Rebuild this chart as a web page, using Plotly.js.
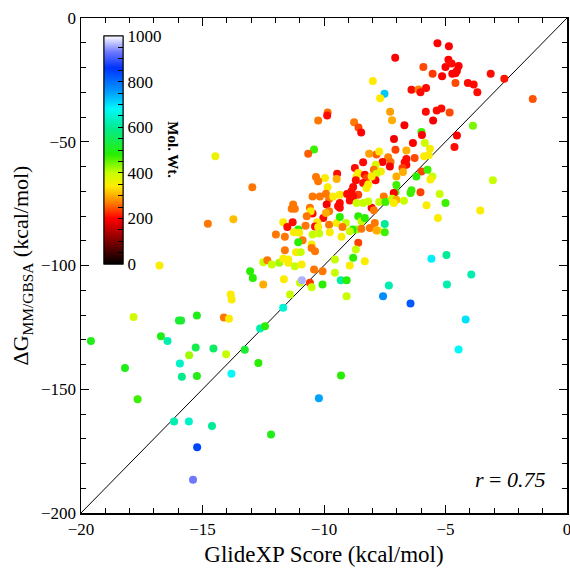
<!DOCTYPE html>
<html>
<head>
<meta charset="utf-8">
<script src="https://cdn.plot.ly/plotly-3.0.1.min.js"></script>
<style>html,body{margin:0;padding:0;background:#fff;}#chart{width:570px;height:571px;}</style>
</head>
<body>
<div id="chart"></div>
<script>
// GlideXP score (kcal/mol)
const glideXP = [
-5.33,-4.86,-7.07,-5.91,-4.88,-4.75,-4.46,-5.00,-4.53,-4.59,-4.72,-5.53,-5.14,-3.14,-2.58,-4.59,-4.08,-3.84,-3.69,-7.99,-7.51,-7.69,-6.40,-6.11,-6.03,-5.80,-5.81,-5.36,-5.17,-4.83,-5.51,-7.28,-7.20,-6.69,-5.99,-5.97,-3.87,-4.53,-7.12,-6.34,-5.85,-5.64,-4.63,-7.06,-6.61,-7.84,-7.73,-7.36,-6.61,-6.27,-5.88,-5.69,-1.41,
-9.85,-9.87,-10.24,-8.76,-8.58,-8.47,-10.41,-10.65,-8.14,
-7.59,-7.26,-7.29,-6.68,-6.61,-6.77,-6.75,-7.87,-7.95,-7.66,-7.84,-5.99,-5.74,-6.20,-5.54,-5.62,-7.02,-7.88,-7.02,-7.06,-7.13,-6.40,-6.44,-6.03,-5.24,-7.54,-7.73,-7.47,-7.20,-7.02,-7.13,-6.71,-5.00,-5.78,-3.05,-3.57,-5.31,-8.04,-7.95,-7.91,-7.50,-7.77,-7.50,-8.11,-5.58,-4.96,-3.94,-4.94,-7.33,
-10.33,-9.96,-10.24,-9.46,-9.48,-12.95,-9.85,-8.73,-8.39,-8.59,-8.66,-8.32,-8.25,-8.04,-8.69,-8.39,-8.25,-8.18,
-10.47,-10.17,-9.92,-9.79,-9.62,-9.35,-9.05,-8.87,-8.80,-8.59,-8.80,-8.94,-8.66,-8.39,-8.18,-9.35,-9.42,-9.35,-9.89,-10.03,-9.79,-9.92,-10.47,-10.58,-11.27,-11.20,-11.33,-10.55,-10.71,-10.28,-10.37,-10.24,-9.79,-9.76,-9.48,-9.35,-9.10,-9.24,-9.28,-8.59,-8.46,-8.32,-8.66,-8.82,-8.94,-8.46,-7.84,
-11.68,-11.29,-11.51,-11.06,-11.02,-11.24,-11.98,-11.61,-10.76,-10.47,-10.20,-10.88,-11.06,-10.51,-10.51,-10.37,-11.15,-10.96,-11.61,-8.59,-8.69,-8.80,-8.32,-8.94,-9.55,-10.06,-10.41,-10.58,-10.99,-10.91,-10.06,-9.55,-9.31,-9.07,
-13.04,-12.93,-12.50,-12.50,-12.33,-12.15,-11.84,-11.68,-11.47,-11.47,-11.20,-10.92,-11.65,
-11.40,-11.68,-10.51,-9.07,-7.57,-6.44,
-16.77,-17.84,-19.59,-18.19,-17.67,-16.71,-16.44,-15.97,-15.88,-15.23,-15.93,-15.85,-15.28,-15.55,-15.23,-14.55,-14.03,-13.81,-13.26,-12.70,-14.12,-13.91,-13.84,-13.80,-13.73,-14.78,-14.47,-12.63,-12.43,-16.17,-15.56,-14.61,-12.18,-15.22,-15.39,
-4.17,-4.46,-10.21,-9.30
];
// ΔG MM/GBSA (kcal/mol)
const dgMMGBSA = [
-10.2,-11.4,-16.1,-19.8,-16.9,-18.4,-19.4,-19.8,-21.3,-22.3,-22.5,-22.5,-23.5,-22.5,-24.5,-26.3,-26.3,-26.9,-30.0,-25.5,-30.6,-32.4,-29.0,-28.9,-30.0,-28.3,-37.9,-37.4,-36.6,-38.2,-41.4,-37.9,-41.3,-43.3,-46.1,-47.3,-43.5,-47.5,-48.9,-50.5,-50.5,-52.8,-52.1,-53.2,-53.5,-55.2,-53.9,-56.3,-57.0,-56.6,-55.9,-55.5,-32.7,
-38.2,-39.4,-41.4,-42.1,-44.2,-46.3,-53.1,-54.8,-54.8,
-58.2,-58.2,-60.0,-58.3,-59.3,-60.6,-62.2,-59.3,-61.3,-62.0,-62.9,-62.0,-61.3,-64.0,-64.0,-65.3,-64.0,-65.6,-67.5,-70.4,-70.7,-69.6,-70.7,-70.4,-71.1,-72.1,-74.3,-74.3,-73.0,-73.4,-74.7,-73.8,-74.7,-75.7,-65.6,-77.8,-80.8,-76.7,-77.7,-82.8,-83.2,-85.9,-86.6,-84.8,-97.3,-95.8,-103.6,-107.7,-108.1,
-64.2,-64.6,-66.0,-62.9,-65.0,-68.4,-68.4,-60.6,-58.3,-62.6,-64.0,-63.3,-64.6,-64.0,-65.6,-66.7,-68.7,-67.3,
-72.1,-72.1,-71.0,-73.1,-72.1,-71.4,-71.1,-70.0,-68.3,-71.4,-72.1,-73.7,-74.7,-74.7,-74.1,-74.7,-76.1,-76.7,-75.4,-80.8,-78.1,-78.8,-79.0,-76.7,-75.4,-77.1,-77.1,-78.1,-80.1,-82.5,-84.2,-84.4,-83.5,-86.6,-82.8,-80.4,-82.8,-84.4,-88.4,-80.1,-82.1,-80.8,-85.5,-85.5,-86.2,-85.2,-85.9,
-82.5,-82.5,-84.4,-85.5,-86.8,-86.6,-87.5,-88.4,-83.9,-87.5,-87.1,-89.8,-90.6,-91.5,-92.9,-94.2,-94.6,-94.6,-93.8,-90.8,-93.5,-96.9,-98.3,-100.0,-97.6,-102.3,-101.6,-107.0,-107.0,-106.0,-107.7,-102.9,-106.0,-106.0,
-102.3,-105.0,-107.7,-98.7,-97.9,-99.6,-98.9,-97.3,-97.6,-98.9,-100.3,-99.6,-105.6,
-111.7,-117.1,-108.8,-112.4,-112.4,-115.4,
-100.0,-120.8,-130.5,-141.4,-154.0,-128.6,-130.5,-122.2,-122.2,-120.2,-139.6,-144.9,-133.1,-136.3,-144.6,-133.5,-135.9,-143.7,-134.0,-139.4,-121.0,-121.5,-111.7,-113.7,-81.3,-83.1,-55.9,-125.5,-124.5,-163.0,-163.0,-164.8,-168.3,-173.4,-186.6,
-121.8,-133.9,-153.6,-144.4
];
// Molecular weight
const molWt = [
200,200,200,240,200,205,200,200,200,200,200,230,200,205,210,240,205,205,205,340,720,340,205,270,205,205,205,205,205,240,195,290,300,195,470,200,440,200,190,200,390,350,205,235,300,250,340,270,205,240,340,345,245,
260,205,265,265,240,200,470,250,290,
200,260,190,205,205,235,300,380,265,345,390,235,470,480,400,345,300,200,470,470,200,470,470,235,400,265,400,470,400,300,345,400,470,345,400,345,345,200,265,265,600,345,470,265,690,600,620,620,620,
265,345,265,205,300,265,345,205,205,345,345,205,235,345,205,205,345,345,
265,265,265,265,345,345,205,205,205,235,205,205,400,400,400,205,205,205,190,205,265,300,205,265,265,265,265,345,265,345,205,345,265,345,345,480,400,265,345,480,400,480,420,480,400,265,300,
345,205,205,480,345,345,265,265,265,400,400,265,480,345,265,265,345,400,265,235,400,480,345,345,400,265,265,230,400,960,480,400,610,480,
480,480,300,400,265,400,420,345,345,345,400,345,345,
400,650,400,400,770,820,
345,390,500,500,470,500,620,520,520,500,640,590,540,420,500,560,400,680,520,480,265,345,345,345,310,265,360,620,480,620,640,600,500,840,930,
700,680,750,480
];
const lineX = [-20, 0];
const lineY = [-200, 0];
const cbTicks = [0,50,100,150,200,250,300,350,400,450,500,550,600,650,700,750,800,850,900,950,1000];
const cbLabels = ['0','','','','200','','','','400','','','','600','','','','800','','','','1000'];

const cscale = [
 [0.00,'rgb(0,0,0)'],
 [0.10,'rgb(125,0,0)'],
 [0.20,'rgb(255,0,0)'],
 [0.27,'rgb(255,128,0)'],
 [0.34,'rgb(255,235,0)'],
 [0.40,'rgb(200,255,0)'],
 [0.48,'rgb(40,238,0)'],
 [0.60,'rgb(0,235,150)'],
 [0.68,'rgb(0,250,250)'],
 [0.76,'rgb(0,150,255)'],
 [0.86,'rgb(0,50,255)'],
 [0.93,'rgb(110,120,255)'],
 [1.00,'rgb(255,255,255)']
];
const serif = 'Liberation Serif, Times New Roman, serif';
const cbCommon = {x:0.048, xanchor:'left', xpad:0, y:0.7333, yanchor:'middle', ypad:0,
     len:228, lenmode:'pixels', thickness:19, thicknessmode:'pixels',
     outlinewidth:1, outlinecolor:'#000',
     tickmode:'array', tickvals: cbTicks,
     ticks:'inside', ticklen:5, tickcolor:'#000',
     tickfont:{family:serif, size:17, color:'#000'}};

const traces = [
 {x: lineX, y: lineY, type:'scatter', mode:'lines', line:{color:'#000', width:1}, hoverinfo:'skip', showlegend:false},
 {x: [null], y: [null], type:'scatter', mode:'markers', showlegend:false, hoverinfo:'skip',
  marker:{color:[0], cmin:0, cmax:1000, colorscale:cscale, showscale:true,
   colorbar:Object.assign({}, cbCommon, {ticktext: cbTicks.map(()=>''), showticklabels:false, ticklabelposition:'outside left'})}},
 {x: glideXP, y: dgMMGBSA, type:'scatter', mode:'markers', showlegend:false,
  marker:{size:8, color: molWt, cmin:0, cmax:1000, colorscale:cscale, line:{width:0},
   showscale:true,
   colorbar:Object.assign({}, cbCommon, {ticktext: cbLabels})}}
];

const layout = {
 width:570, height:571,
 margin:{l:81, r:3, t:18, b:58},
 paper_bgcolor:'#fff', plot_bgcolor:'#fff',
 font:{family:serif, color:'#000'},
 xaxis:{range:[-20,0], dtick:5, tick0:0, ticks:'inside', ticklen:8, tickwidth:1, tickcolor:'#000',
   showline:true, linecolor:'#000', linewidth:1.5, mirror:'ticks', showgrid:false, zeroline:false,
   ticklabeloverflow:'allow',
   minor:{dtick:1, ticks:'inside', ticklen:5, tickwidth:1, tickcolor:'#000', showgrid:false},
   tickfont:{size:17}, title:{text:'GlideXP Score (kcal/mol)', font:{size:23}, standoff:8}},
 yaxis:{range:[-200,0], dtick:50, tick0:0, ticks:'inside', ticklen:8, tickwidth:1, tickcolor:'#000',
   showline:true, linecolor:'#000', linewidth:1.5, mirror:'ticks', showgrid:false, zeroline:false,
   ticklabeloverflow:'allow',
   minor:{dtick:10, ticks:'inside', ticklen:5, tickwidth:1, tickcolor:'#000', showgrid:false},
   tickfont:{size:17}, title:{text:'ΔG<sub>MM/GBSA</sub> (kcal/mol)', font:{size:22}, standoff:6}},
 annotations:[
  {xref:'paper', yref:'paper', x:0.882, y:0.067, text:'<i>r</i> = <i>0.75</i>', showarrow:false,
   font:{size:22, family:serif}, xanchor:'center', yanchor:'middle'},
  {xref:'paper', yref:'paper', x:0.189, y:0.733, text:'<b>Mol. Wt.</b>', textangle:90, showarrow:false,
   font:{size:15, family:serif}, xanchor:'center', yanchor:'middle'}
 ]
};
Plotly.newPlot('chart', traces, layout, {displayModeBar:false, staticPlot:true});
</script>
</body>
</html>
